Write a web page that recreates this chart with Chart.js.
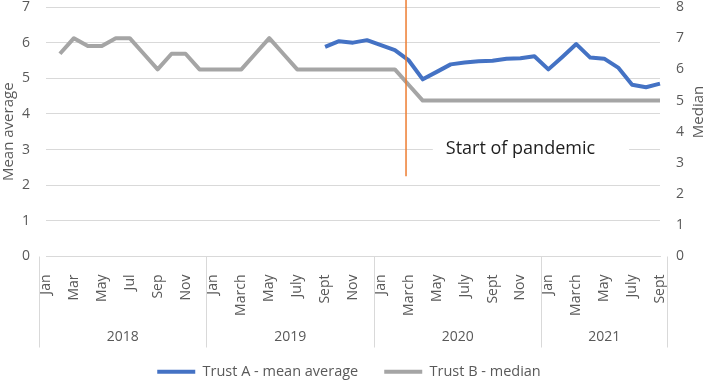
<!DOCTYPE html>
<html>
<head>
<meta charset="utf-8">
<script src="https://cdn.jsdelivr.net/npm/chart.js@4.4.0/dist/chart.umd.min.js"></script>
<style>
  body { margin: 0; background: #fff; }
  #wrap { width: 708px; height: 380px; }
</style>
</head>
<body>
<div id="wrap"><canvas id="myChart" width="708" height="380"></canvas></div>
<script>
  const years = ['2018', '2019', '2020', '2021'];
  const monthsPerYear = [12, 12, 12, 9];
  const monthLabels = [
    'Jan', 'Feb', 'Mar', 'Apr', 'May', 'Jun', 'Jul', 'Aug', 'Sep', 'Oct', 'Nov', 'Dec',
    'Jan', 'Feb', 'March', 'April', 'May', 'June', 'July', 'Aug', 'Sept', 'Oct', 'Nov', 'Dec',
    'Jan', 'Feb', 'March', 'April', 'May', 'June', 'July', 'Aug', 'Sept', 'Oct', 'Nov', 'Dec',
    'Jan', 'Feb', 'March', 'April', 'May', 'June', 'July', 'Aug', 'Sept'
  ];

  // Trust A, left axis
  const trustAMean = [
    null, null, null, null, null, null, null, null, null, null, null, null,
    null, null, null, null, null, null, null, null, 5.88, 6.04, 6.0, 6.07,
    5.93, 5.79, 5.5, 4.97, 5.18, 5.39, 5.44, 5.48, 5.49, 5.55, 5.56, 5.62,
    5.25, 5.6, 5.96, 5.58, 5.55, 5.3, 4.82, 4.75, 4.85
  ];
  // Trust B, right axis
  const trustBMedian = [
    null, 6.5, 7, 6.75, 6.75, 7, 7, 6.5, 6, 6.5, 6.5, 6,
    6, 6, 6, 6.5, 7, 6.5, 6, 6, 6, 6, 6, 6,
    6, 6, 5.5, 5, 5, 5, 5, 5, 5, 5, 5, 5,
    5, 5, 5, 5, 5, 5, 5, 5, 5
  ];

  const pandemicLabel = 'Start of pandemic';
  const pandemicAt = 25.8;        // category index of the marker line
  const pandemicLineEnd = 2.25;   // on the mean axis
  const pandemicLabelAt = 34;
  const pandemicLabelY = 3;

  const font = 'Open Sans';
  const grey = '#595959';

  const extras = {
    id: 'extras',
    beforeDatasetsDraw(chart) {
      const { ctx, scales: { x, y } } = chart;
      const cx = x.getPixelForValue(pandemicLabelAt);
      const cy = y.getPixelForValue(pandemicLabelY);
      ctx.save();
      ctx.font = '18px "' + font + '"';
      const w = ctx.measureText(pandemicLabel).width;
      ctx.fillStyle = '#fff';
      ctx.fillRect(cx - w / 2 - 13, cy - 11, w + 47, 22);
      ctx.fillStyle = '#1e1e1e';
      ctx.textAlign = 'center';
      ctx.textBaseline = 'middle';
      ctx.fillText(pandemicLabel, cx, cy - 1);
      ctx.restore();
    },
    afterDatasetsDraw(chart) {
      const { ctx, scales: { x, y } } = chart;
      const px = x.getPixelForValue(pandemicAt);
      ctx.save();
      ctx.strokeStyle = '#ED7D31';
      ctx.lineWidth = 1.5;
      ctx.beginPath();
      ctx.moveTo(px, 0);
      ctx.lineTo(px, y.getPixelForValue(pandemicLineEnd));
      ctx.stroke();
      ctx.restore();
    },
    afterDraw(chart) {
      const { ctx, chartArea, scales: { x } } = chart;
      const top = chartArea.bottom;
      const bottom = chartArea.bottom + 91;
      const edges = [-0.5];
      let n = 0;
      monthsPerYear.forEach(m => { n += m; edges.push(n - 0.5); });

      ctx.save();
      ctx.strokeStyle = '#d9d9d9';
      ctx.lineWidth = 1;
      edges.forEach(e => {
        const px = Math.round(x.getPixelForValue(e)) + 0.5;
        ctx.beginPath();
        ctx.moveTo(px, top);
        ctx.lineTo(px, bottom);
        ctx.stroke();
      });
      ctx.fillStyle = grey;
      ctx.font = '14px "' + font + '"';
      ctx.textAlign = 'center';
      ctx.textBaseline = 'middle';
      years.forEach((yr, i) => {
        ctx.fillText(yr, x.getPixelForValue((edges[i] + edges[i + 1]) / 2), chartArea.bottom + 81);
      });

      // right axis title reads bottom to top
      ctx.translate(699, 112);
      ctx.rotate(-Math.PI / 2);
      ctx.font = '15px "' + font + '"';
      ctx.fillText('Median', 0, 0);
      ctx.restore();
    }
  };

  new Chart(document.getElementById('myChart'), {
    type: 'line',
    data: {
      labels: monthLabels,
      datasets: [
        {
          label: 'Trust A - mean average',
          data: trustAMean,
          yAxisID: 'y',
          borderColor: '#4472C4',
          backgroundColor: '#4472C4',
          borderWidth: 4,
          borderJoinStyle: 'round',
          pointRadius: 0
        },
        {
          label: 'Trust B - median',
          data: trustBMedian,
          yAxisID: 'y1',
          borderColor: '#A5A5A5',
          backgroundColor: '#A5A5A5',
          borderWidth: 4,
          borderJoinStyle: 'round',
          pointRadius: 0
        }
      ]
    },
    options: {
      responsive: false,
      animation: false,
      layout: { padding: { top: 0, bottom: -9, left: 0, right: 10 } },
      plugins: {
        tooltip: { enabled: false },
        legend: {
          position: 'bottom',
          labels: {
            usePointStyle: true,
            pointStyle: 'line',
            pointStyleWidth: 38,
            padding: 26,
            color: grey,
            font: { family: font, size: 14.5 }
          }
        }
      },
      scales: {
        x: {
          grid: { display: false },
          border: { display: true, color: '#d9d9d9' },
          ticks: {
            autoSkip: false,
            minRotation: 90,
            maxRotation: 90,
            padding: 10,
            color: grey,
            font: { family: font, size: 14 },
            callback: (v, i) => (i % 2 === 0 ? monthLabels[i] : '')
          },
          afterFit: s => { s.height = 82; }
        },
        y: {
          position: 'left',
          min: 0,
          max: 7,
          ticks: { stepSize: 1, padding: 16, color: grey, font: { family: font, size: 14 } },
          grid: { color: '#d9d9d9', drawTicks: false },
          border: { display: false },
          title: { display: true, text: 'Mean average', color: grey, font: { family: font, size: 15 }, padding: 0 },
          afterFit: s => { s.width = 46; s.paddingTop = 7; s.paddingBottom = 0; }
        },
        y1: {
          position: 'right',
          min: 0,
          max: 8,
          ticks: { stepSize: 1, padding: 16, color: grey, font: { family: font, size: 14 } },
          grid: { display: false, drawTicks: false },
          border: { display: false },
          afterFit: s => { s.width = 38; s.paddingTop = 7; s.paddingBottom = 0; }
        }
      }
    },
    plugins: [extras]
  });
</script>
</body>
</html>
